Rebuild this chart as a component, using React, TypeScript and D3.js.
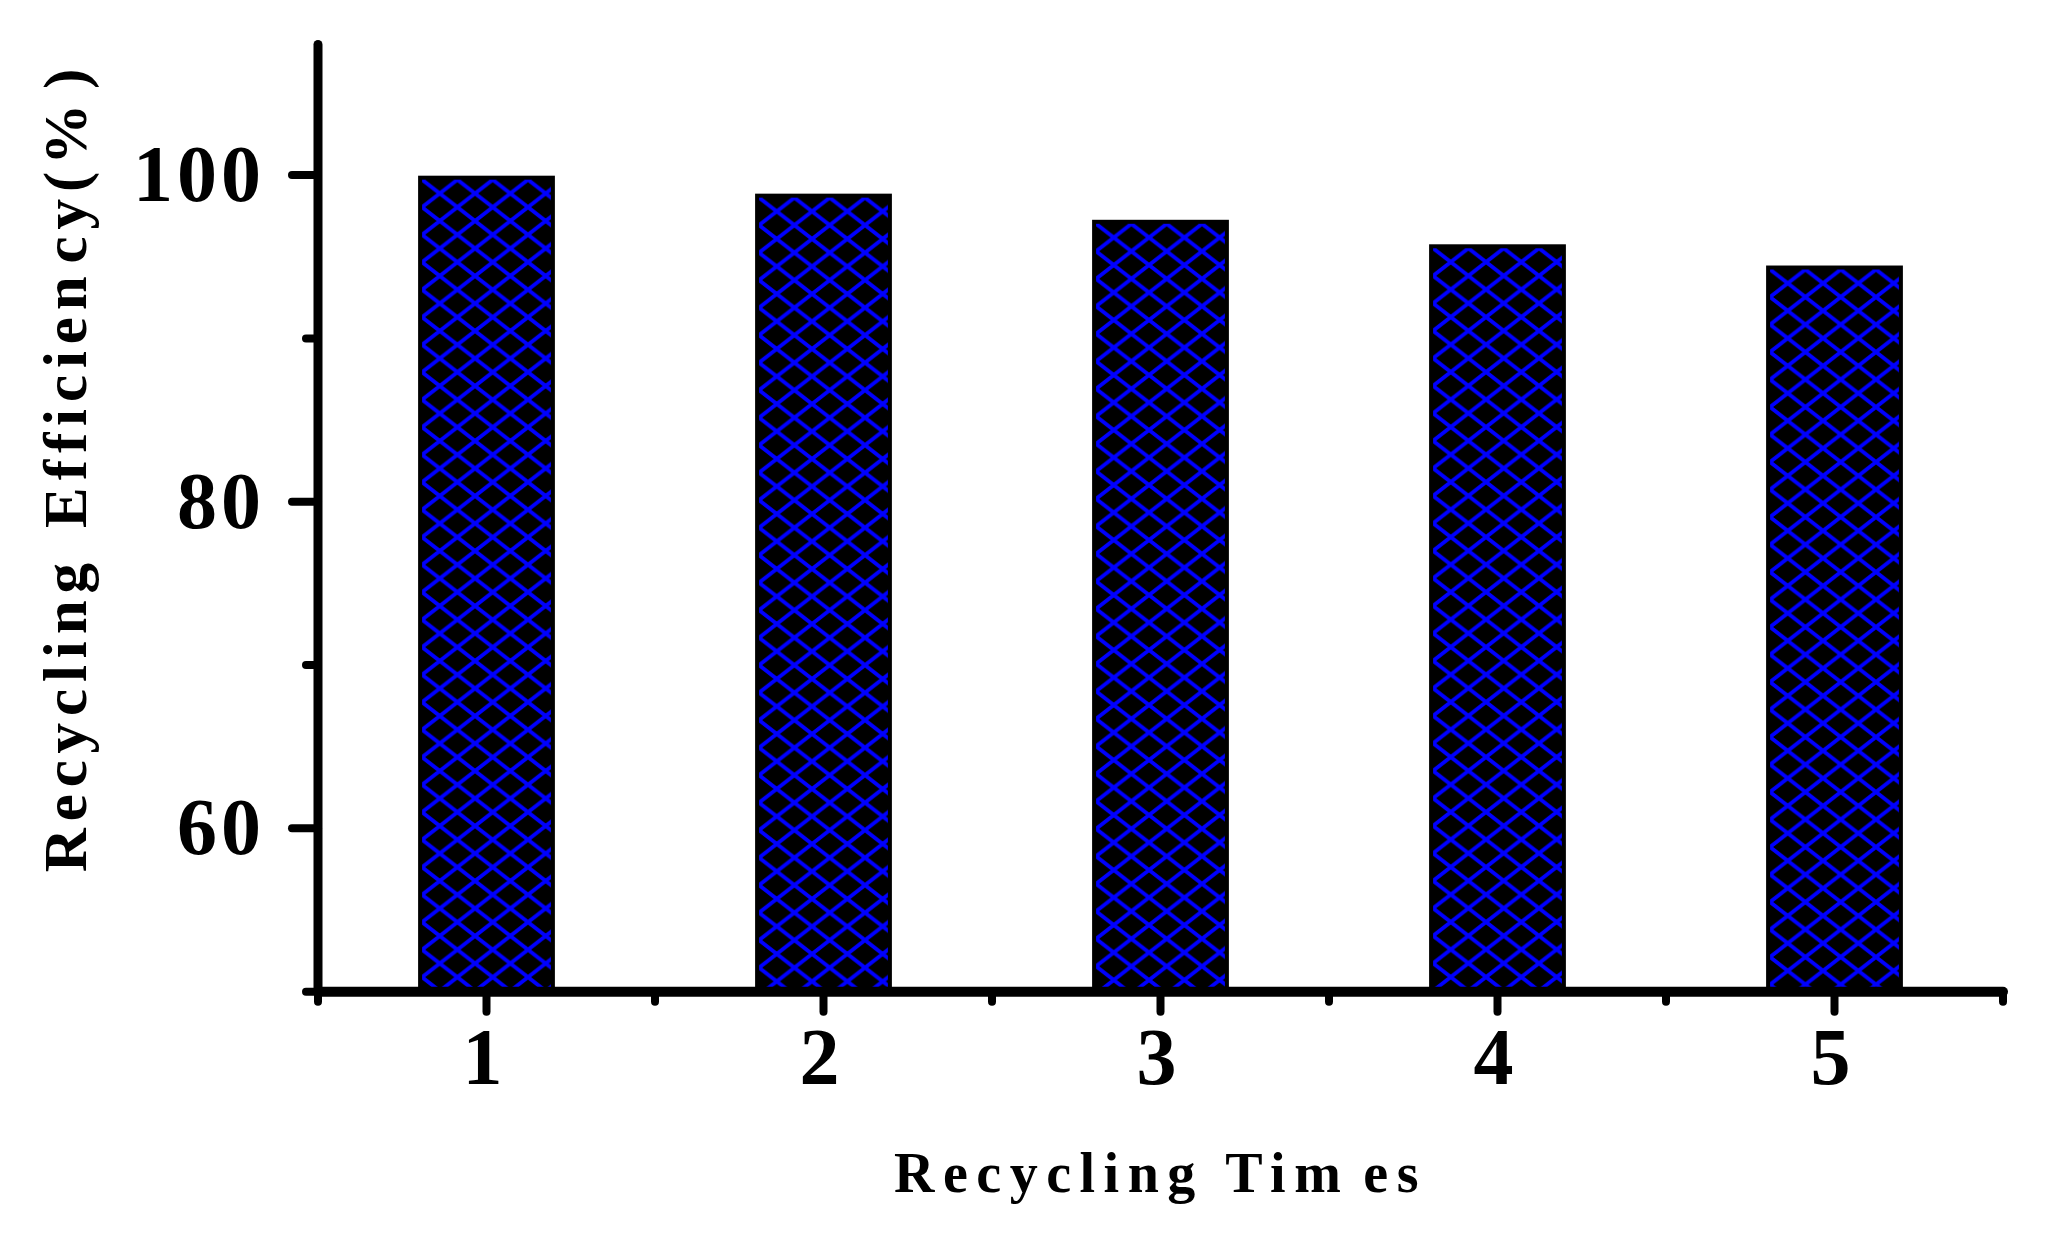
import React from "react";
import * as d3 from "d3";

const categories: number[] = [1, 2, 3, 4, 5];
const efficiency: number[] = [99.9, 98.8, 97.2, 95.7, 94.4];
const yMajorTicks: number[] = [60, 80, 100];
const yMinorTicks: number[] = [50, 70, 90];
const xMajorTicks: number[] = [1, 2, 3, 4, 5];
const xMinorTicks: number[] = [0.5, 1.5, 2.5, 3.5, 4.5, 5.5];
const xTitle = "Recycling Times";
const yTitle = "Recycling Efficiency(%)";

const W = 2062;
const H = 1233;
const FONT = "'Liberation Serif', 'Times New Roman', serif";
const HATCH = "#0000FF";

export default function App() {
  const x = d3.scaleLinear().domain([0.5, 5.5]).range([318, 2003]);
  const y = d3.scaleLinear().domain([50, 108]).range([991.7, 44.4]);
  const barW = x(1.4) - x(1);
  const tileW = 35.3;
  const tileH = 27.5;

  const hatchPath = (() => {
    const p = d3.path();
    for (let k = -2; k <= 2; k++) {
      const x0 = k * tileW;
      p.moveTo(x0 - tileW, -tileH);
      p.lineTo(x0 + 2 * tileW, 2 * tileH);
      p.moveTo(x0 + 2 * tileW, -tileH);
      p.lineTo(x0 - tileW, 2 * tileH);
    }
    return p.toString();
  })();

  const bars = categories.map((c, i) => {
    const left = x(c) - barW / 2;
    const top = y(efficiency[i]);
    const bottom = y(50);
    return { c, i, left, top, bottom };
  });

  const inset = 3;

  return (
    <svg
      width={W}
      height={H}
      viewBox={`0 0 ${W} ${H}`}
      style={{ position: "absolute", left: 0, top: 0, display: "block", background: "#fff" }}
    >
      <defs>
        {bars.map((b) => (
          <pattern
            key={b.i}
            id={`hatch-${b.i}`}
            patternUnits="userSpaceOnUse"
            x={b.left + inset}
            y={b.top + inset}
            width={tileW}
            height={tileH}
          >
            <rect width={tileW} height={tileH} fill="#000" />
            <path d={hatchPath} stroke={HATCH} strokeWidth={3.8} fill="none" />
          </pattern>
        ))}
      </defs>

      {bars.map((b) => (
        <g key={b.i}>
          <rect
            x={b.left}
            y={b.top}
            width={barW}
            height={b.bottom - b.top}
            fill="#000"
            stroke="#000"
            strokeWidth={2}
          />
          <rect
            x={b.left + inset}
            y={b.top + inset}
            width={barW - 2 * inset}
            height={b.bottom - b.top - inset}
            fill={`url(#hatch-${b.i})`}
          />
        </g>
      ))}

      {/* Y axis */}
      <line x1={x(0.5)} x2={x(0.5)} y1={y(108)} y2={y(50)} stroke="#000" strokeWidth={9} strokeLinecap="round" />
      {yMajorTicks.map((t) => (
        <line key={`ymj${t}`} x1={x(0.5)} x2={x(0.5) - 26} y1={y(t)} y2={y(t)} stroke="#000" strokeWidth={8} strokeLinecap="round" />
      ))}
      {yMinorTicks.map((t) => (
        <line key={`ymn${t}`} x1={x(0.5)} x2={x(0.5) - 12} y1={y(t)} y2={y(t)} stroke="#000" strokeWidth={8} strokeLinecap="round" />
      ))}
      {yMajorTicks.map((t) => (
        <text
          key={`ylab${t}`}
          x={265}
          y={y(t) + 26}
          textAnchor="end"
          fontFamily={FONT}
          fontWeight="bold"
          fontSize={80}
          letterSpacing={4}
          fill="#000"
        >
          {t}
        </text>
      ))}

      {/* X axis */}
      <line x1={x(0.5)} x2={x(5.5)} y1={y(50)} y2={y(50)} stroke="#000" strokeWidth={10} strokeLinecap="round" />
      {xMajorTicks.map((t) => (
        <line key={`xmj${t}`} x1={x(t)} x2={x(t)} y1={y(50)} y2={y(50) + 20} stroke="#000" strokeWidth={8} strokeLinecap="round" />
      ))}
      {xMinorTicks.map((t) => (
        <line key={`xmn${t}`} x1={x(t)} x2={x(t)} y1={y(50)} y2={y(50) + 10} stroke="#000" strokeWidth={8} strokeLinecap="round" />
      ))}
      {xMajorTicks.map((t) => (
        <text
          key={`xlab${t}`}
          x={x(t) - 4}
          y={1084}
          textAnchor="middle"
          fontFamily={FONT}
          fontWeight="bold"
          fontSize={80}
          fill="#000"
        >
          {t}
        </text>
      ))}

      {/* X title */}
      <text
        x={x(3)}
        y={1192}
        textAnchor="middle"
        fontFamily={FONT}
        fontWeight="bold"
        fontSize={56}
        letterSpacing={8.5}
        fill="#000"
      >
        <tspan>{xTitle.slice(0, 13)}</tspan>
        <tspan dx={14}>{xTitle.slice(13)}</tspan>
      </text>

      {/* Y title */}
      <text
        transform={`translate(86, 467) rotate(-90)`}
        x={0}
        y={0}
        textAnchor="middle"
        fontFamily={FONT}
        fontWeight="bold"
        fontSize={61}
        letterSpacing={6.9}
        fill="#000"
      >
        <tspan>{yTitle.slice(0, 10)}</tspan>
        <tspan dx={6}>{yTitle.slice(10, 18)}</tspan>
        <tspan dx={6}>{yTitle.slice(18, 22)}</tspan>
        <tspan dx={8}>{yTitle.slice(22)}</tspan>
      </text>
    </svg>
  );
}
